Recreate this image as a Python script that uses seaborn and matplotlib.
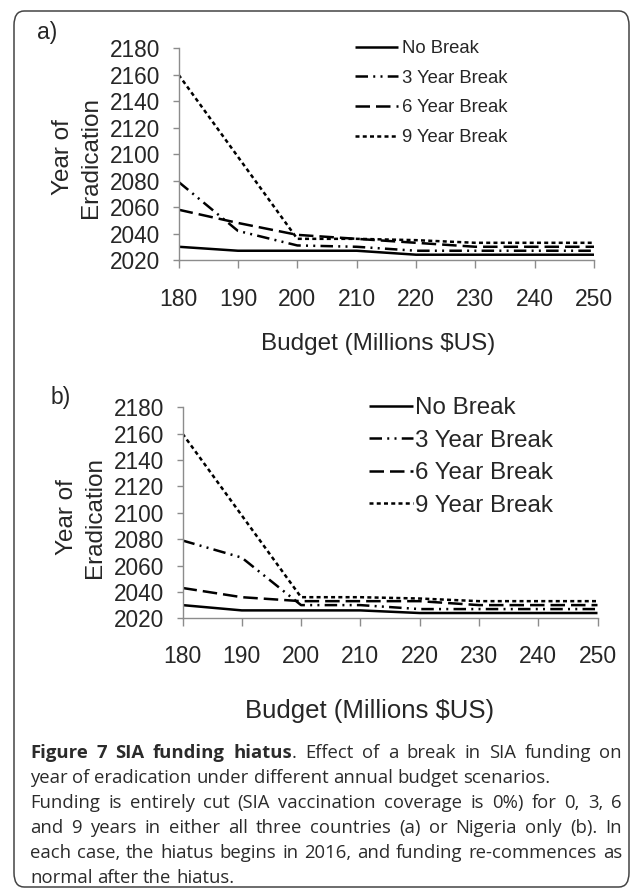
import numpy as np
import pandas as pd
import matplotlib
matplotlib.use("Agg")
import matplotlib.pyplot as plt
import seaborn as sns
from matplotlib.patches import FancyBboxPatch

# ---- data -------------------------------------------------------------
budget = [180, 190, 200, 210, 220, 230, 240, 250]
scenarios = ["No Break", "3 Year Break", "6 Year Break", "9 Year Break"]

# (a) hiatus in all three countries
a_no_break = [2030, 2027, 2027, 2027, 2024, 2024, 2024, 2024]
a_break3 = [2079, 2042, 2031, 2030, 2027, 2027, 2027, 2027]
a_break6 = [2058, 2048, 2039, 2036, 2033, 2030, 2030, 2030]
a_break9 = [2160, 2098, 2036, 2036, 2035, 2033, 2033, 2033]

# (b) hiatus in Nigeria only
b_no_break = [2030, 2026, 2026, 2026, 2024, 2024, 2024, 2024]
b_break3 = [2079, 2066, 2030, 2030, 2027, 2027, 2027, 2027]
b_break6 = [2043, 2036, 2033, 2033, 2033, 2030, 2030, 2030]
b_break9 = [2160, 2098, 2036, 2036, 2035, 2033, 2033, 2033]

y_ticks = [2020, 2040, 2060, 2080, 2100, 2120, 2140, 2160, 2180]


def long_table(series):
    rows = []
    for name, vals in zip(scenarios, series):
        for b, v in zip(budget, vals):
            rows.append({"Budget": b, "Year": v, "Scenario": name})
    return pd.DataFrame(rows)


df_a = long_table([a_no_break, a_break3, a_break6, a_break9])
df_b = long_table([b_no_break, b_break3, b_break6, b_break9])

# ---- style ------------------------------------------------------------
sns.set_style("white")
plt.rcParams["font.family"] = ["Liberation Sans", "DejaVu Sans"]

W, H = 633, 891
fig = plt.figure(figsize=(W / 100, H / 100), dpi=100)

dash_map = {
    "No Break": "",
    "3 Year Break": (5.0, 2.1, 0.8, 2.1, 0.8, 2.1),
    "6 Year Break": (5.8, 2.4),
    "9 Year Break": (1.6, 1.3),
}


def fx(x):
    return x / W


def fy(y):
    return 1 - y / H


def add_axes_px(left, top, right, bottom):
    return fig.add_axes([fx(left), fy(bottom), (right - left) / W, (bottom - top) / H])


def draw_panel(ax, df, xpad, leg_anchor, leg_size, leg_handlelen, leg_textpad, leg_spacing):
    sns.lineplot(data=df, x="Budget", y="Year", style="Scenario",
                 style_order=scenarios, dashes=dash_map, color="black",
                 linewidth=1.8, ax=ax, legend=False)
    ax.set_xlim(180, 250)
    ax.set_ylim(2020, 2180)
    ax.set_xticks(budget)
    ax.set_yticks(y_ticks)
    for side in ("top", "right"):
        ax.spines[side].set_visible(False)
    for side in ("left", "bottom"):
        ax.spines[side].set_color("#8c8c8c")
        ax.spines[side].set_linewidth(1.0)
    ax.tick_params(axis="x", direction="out", length=6, width=1.0, color="#8c8c8c",
                   labelsize=16.5, pad=xpad, bottom=True)
    ax.tick_params(axis="y", direction="out", length=4, width=1.0, color="#8c8c8c",
                   labelsize=16.3, pad=9, left=True)
    ax.set_xlabel("")
    ax.set_ylabel("")
    ax.set_facecolor("none")
    for ln in ax.lines:
        ln.set_solid_capstyle("butt")
        ln.set_dash_capstyle("butt")
    ax.legend(handles=list(ax.lines), labels=scenarios, loc="upper left",
              bbox_to_anchor=(fx(leg_anchor[0]), fy(leg_anchor[1])),
              bbox_transform=fig.transFigure, frameon=False, borderpad=0,
              borderaxespad=0, fontsize=leg_size, handlelength=leg_handlelen,
              handletextpad=leg_textpad, labelspacing=leg_spacing)


# panel (a)
ax_a = add_axes_px(178.6, 48.3, 594, 260)
draw_panel(ax_a, df_a, xpad=14, leg_anchor=(355, 40), leg_size=13.3,
           leg_handlelen=2.35, leg_textpad=0.2, leg_spacing=0.69)

# panel (b)
ax_b = add_axes_px(182.5, 407.3, 597.5, 618.3)
draw_panel(ax_b, df_b, xpad=13, leg_anchor=(369, 397), leg_size=17.4,
           leg_handlelen=1.8, leg_textpad=0.12, leg_spacing=0.44)

# panel letters, axis titles
fig.text(fx(47.6), fy(32), "a)", fontsize=16.5, ha="center", va="center")
fig.text(fx(60.5), fy(398), "b)", fontsize=16.5, ha="center", va="center")

for xc1, xc2, yc in ((62.6, 91.0, 157), (66.6, 95.0, 517)):
    fig.text(fx(xc1), fy(yc), "Year of", rotation=90, fontsize=17.5,
             ha="center", va="center")
    fig.text(fx(xc2), fy(yc), "Eradication", rotation=90, fontsize=17.5,
             ha="center", va="center")

fig.text(fx(378), fy(344), "Budget (Millions $US)", fontsize=17.5,
         ha="center", va="center")
fig.text(fx(370), fy(711), "Budget (Millions $US)", fontsize=18.5,
         ha="center", va="center")

# rounded figure frame
frame = FancyBboxPatch((fx(14), fy(887)), (629 - 14) / W, (887 - 11) / H,
                       boxstyle="round,pad=0,rounding_size=0.016",
                       transform=fig.transFigure, facecolor="none",
                       edgecolor="#444444", linewidth=1.1)
fig.patches.append(frame)

# ---- justified caption ------------------------------------------------
cap_font = ["Open Sans", "DejaVu Sans"]
cap_color = "#2b2b2b"
cap_size = 13.3
cap_left, cap_right = 30, 622

caption_lines = [
    ([[("Figure", "bold")], [("7", "bold")], [("SIA", "bold")], [("funding", "bold")],
      [("hiatus", "bold"), (".", "normal")]] +
     [[(w, "normal")] for w in "Effect of a break in SIA funding on".split()], True),
    ([[(w, "normal")] for w in "year of eradication under different annual budget scenarios.".split()], False),
    ([[(w, "normal")] for w in "Funding is entirely cut (SIA vaccination coverage is 0%) for 0, 3, 6".split()], True),
    ([[(w, "normal")] for w in "and 9 years in either all three countries (a) or Nigeria only (b). In".split()], True),
    ([[(w, "normal")] for w in "each case, the hiatus begins in 2016, and funding re-commences as".split()], True),
    ([[(w, "normal")] for w in "normal after the hiatus.".split()], False),
]
line_y = [758, 783, 808, 833, 858, 883]

renderer = fig.canvas.get_renderer()


def text_width(s, weight):
    t = fig.text(0, 0, s, fontsize=cap_size, fontweight=weight, family=cap_font)
    w = t.get_window_extent(renderer).width
    t.remove()
    return w


space_w = text_width("a a", "normal") - text_width("aa", "normal")

for (words, justify), yb in zip(caption_lines, line_y):
    widths = [[text_width(s, wt) for s, wt in word] for word in words]
    totals = [sum(w) for w in widths]
    gap = space_w
    if justify and len(words) > 1:
        gap = max(space_w * 0.6, (cap_right - cap_left - sum(totals)) / (len(words) - 1))
    x = cap_left
    for word, wlist, tot in zip(words, widths, totals):
        xp = x
        for (s, wt), w in zip(word, wlist):
            fig.text(fx(xp), fy(yb), s, fontsize=cap_size, fontweight=wt,
                     family=cap_font, color=cap_color, ha="left", va="baseline")
            xp += w
        x += tot + gap

fig.savefig("out.png", dpi=100, facecolor="white")
